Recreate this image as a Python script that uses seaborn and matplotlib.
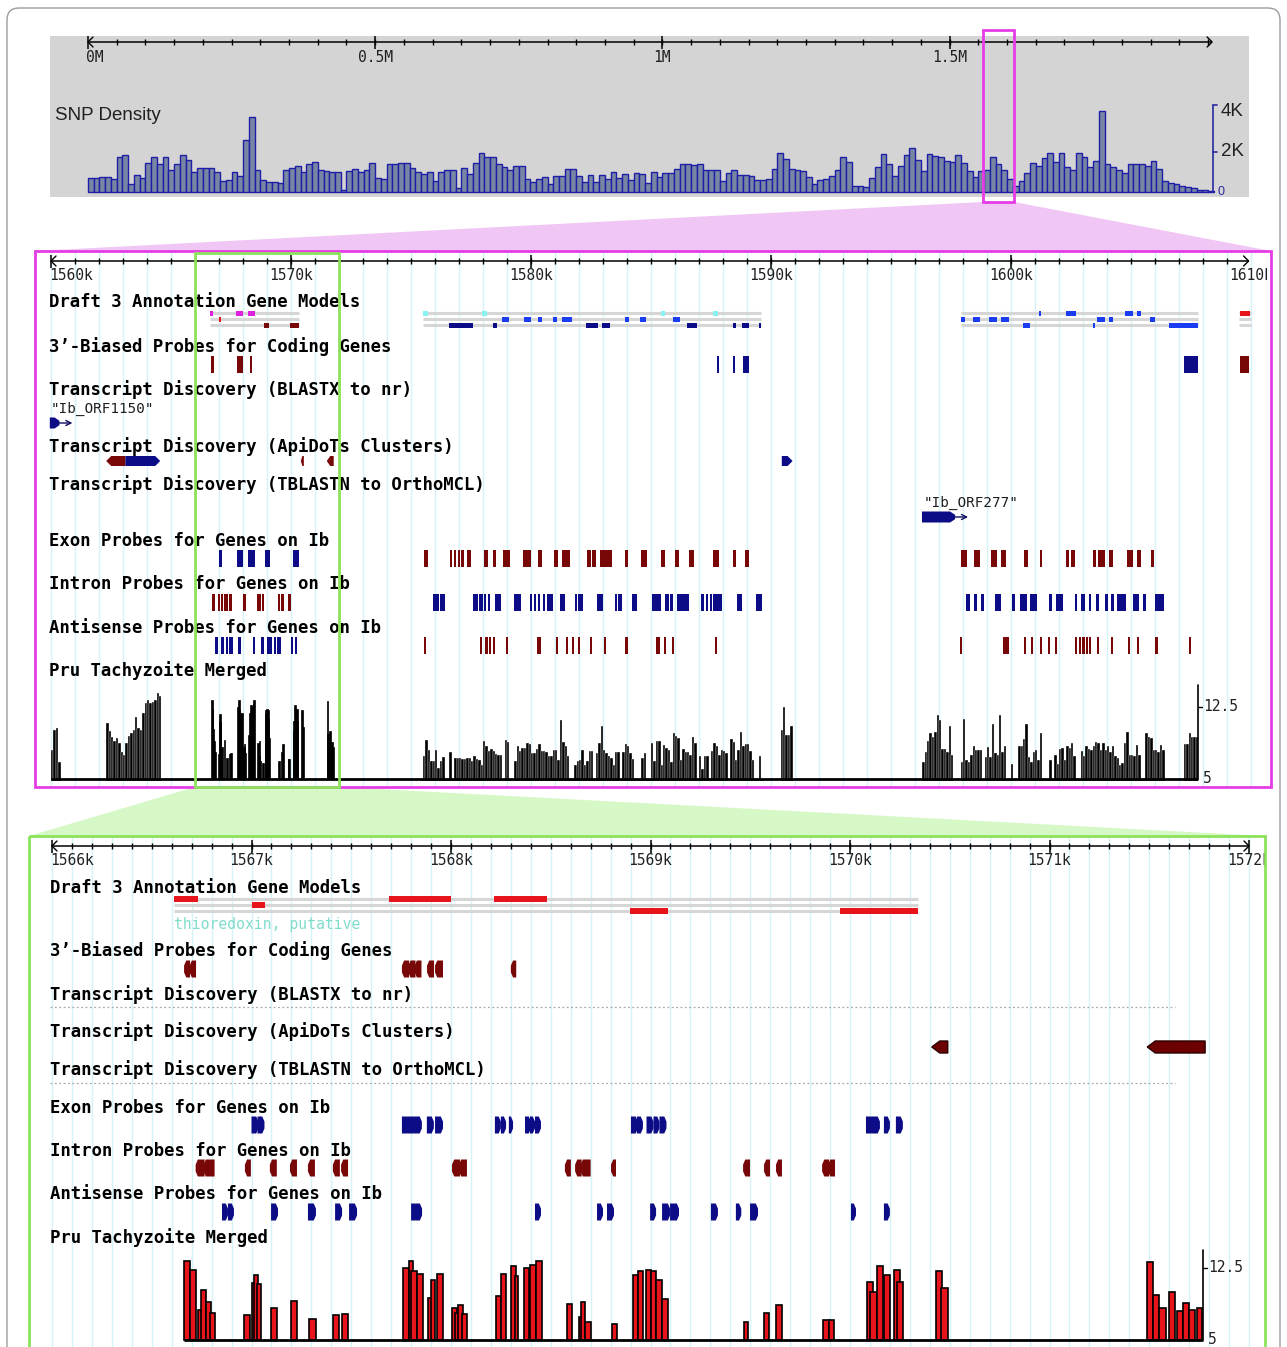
import numpy as np
import pandas as pd
import matplotlib
matplotlib.use("Agg")
import matplotlib.pyplot as plt
from matplotlib.patches import Polygon, Rectangle, FancyBboxPatch
import seaborn as sns

# ---------------------------------------------------------------- data
# SNP density along the chromosome, 10 kb bins (thousands of SNPs)
snp_bin_mb = 0.01
snp_density_k = [
    0.70, 0.70, 0.72, 0.75, 0.65, 1.75, 1.85, 0.38, 0.85, 0.70,
    1.44, 1.72, 1.36, 1.72, 1.10, 1.36, 1.85, 1.56, 0.98, 1.20,
    1.20, 1.20, 0.98, 0.52, 0.57, 0.97, 0.77, 2.57, 3.72, 1.10,
    0.60, 0.50, 0.50, 0.44, 1.07, 1.18, 1.26, 0.97, 1.36, 1.50,
    1.10, 1.02, 0.97, 0.97, 0.08, 1.03, 1.15, 0.97, 1.10, 1.43,
    0.70, 0.66, 1.36, 1.39, 1.44, 1.44, 1.20, 0.98, 0.90, 0.98,
    0.54, 0.98, 1.07, 1.07, 0.21, 1.20, 0.90, 1.43, 1.92, 1.72,
    1.72, 1.36, 1.23, 1.07, 1.26, 1.26, 0.64, 0.48, 0.66, 0.74,
    0.41, 0.77, 0.77, 1.15, 1.15, 0.77, 0.49, 0.82, 0.49, 0.82,
    0.66, 0.98, 0.70, 0.90, 0.57, 0.93, 0.87, 0.46, 0.98, 0.74,
    0.93, 0.93, 1.13, 1.38, 1.38, 1.34, 1.38, 1.07, 1.07, 1.07,
    0.52, 0.93, 1.07, 0.82, 0.85, 0.80, 0.57, 0.57, 0.64, 1.15,
    1.95, 1.62, 1.13, 1.07, 1.02, 0.72, 0.41, 0.57, 0.64, 0.80,
    1.07, 1.72, 1.46, 0.28, 0.28, 0.23, 0.69, 1.21, 1.89, 1.38,
    0.80, 1.30, 1.84, 2.15, 1.59, 1.05, 1.87, 1.80, 1.75, 1.54,
    1.50, 1.84, 1.43, 1.02, 0.74, 1.05, 1.07, 1.72, 1.39, 1.07,
    0.64, 0.31, 0.52, 0.93, 1.43, 1.30, 1.70, 1.95, 1.46, 1.95,
    1.23, 1.07, 1.95, 1.75, 1.23, 1.51, 4.02, 1.38, 1.23, 1.07,
    0.93, 1.38, 1.38, 1.38, 1.30, 1.51, 1.13, 0.52, 0.45, 0.41,
    0.31, 0.25, 0.20, 0.12, 0.08, 0.03,
]
chrom_length_mb = 1.957
genome_major_mb = [0.0, 0.5, 1.0, 1.5]
genome_major_labels = ["0M", "0.5M", "1M", "1.5M"]
snp_scale_k = [2, 4]
snp_scale_labels = ["2K", "4K"]

# region views (kb)
region_view = (1560.0, 1609.9)
region_major_kb = [1560, 1570, 1580, 1590, 1600, 1610]
region_major_labels = ["1560k", "1570k", "1580k", "1590k", "1600k", "1610k"]
detail_view = (1566.0, 1572.0)
detail_major_kb = [1566, 1567, 1568, 1569, 1570, 1571, 1572]
detail_major_labels = ["1566k", "1567k", "1568k", "1569k", "1570k", "1571k", "1572k"]

track_names = [
    "Draft 3 Annotation Gene Models",
    "3\u2019-Biased Probes for Coding Genes",
    "Transcript Discovery (BLASTX to nr)",
    "Transcript Discovery (ApiDoTs Clusters)",
    "Transcript Discovery (TBLASTN to OrthoMCL)",
    "Exon Probes for Genes on Ib",
    "Intron Probes for Genes on Ib",
    "Antisense Probes for Genes on Ib",
    "Pru Tachyzoite Merged",
]

# gene models inside the detail window: (row, start, end)
thioredoxin_span = (1566.61, 1570.34)
thioredoxin_name = "thioredoxin, putative"
thioredoxin_exons = [
    (0, 1566.61, 1566.73), (0, 1567.69, 1568.00), (0, 1568.215, 1568.48),
    (1, 1567.005, 1567.07),
    (2, 1568.895, 1569.09), (2, 1569.95, 1570.34),
]
# other gene models of the 50 kb region: (row, start, end, colour key)
gene_b_span = (1575.5, 1589.6)
gene_b_exons = [
    (0, 1575.50, 1575.70, "cyan"), (0, 1577.96, 1578.17, "cyan"),
    (0, 1585.40, 1585.60, "cyan"), (0, 1587.60, 1587.80, "cyan"),
    (1, 1578.80, 1579.10, "blue"), (1, 1579.70, 1580.00, "blue"),
    (1, 1580.30, 1580.45, "blue"), (1, 1580.90, 1581.10, "blue"),
    (1, 1581.30, 1581.70, "blue"), (1, 1583.90, 1584.10, "blue"),
    (1, 1584.55, 1584.80, "blue"), (1, 1585.90, 1586.20, "blue"),
    (2, 1576.60, 1577.60, "navy"), (2, 1578.40, 1578.60, "navy"),
    (2, 1582.30, 1582.80, "navy"), (2, 1582.95, 1583.30, "navy"),
    (2, 1586.50, 1586.90, "navy"), (2, 1588.40, 1588.55, "navy"),
    (2, 1588.80, 1589.10, "navy"), (2, 1589.50, 1589.60, "navy"),
]
gene_c_span = (1597.9, 1607.8)
gene_c_exons = [
    (0, 1601.17, 1601.25, "blue"), (0, 1602.30, 1602.70, "blue"),
    (0, 1604.75, 1605.10, "blue"), (0, 1605.25, 1605.40, "blue"),
    (1, 1597.90, 1598.10, "blue"), (1, 1598.40, 1598.70, "blue"),
    (1, 1599.10, 1599.40, "blue"), (1, 1599.60, 1599.90, "blue"),
    (1, 1603.60, 1603.90, "blue"), (1, 1604.10, 1604.25, "blue"),
    (1, 1605.80, 1606.00, "blue"),
    (2, 1600.50, 1600.80, "blue"), (2, 1603.40, 1603.50, "blue"),
    (2, 1606.60, 1607.80, "blue"),
]
gene_d_span = (1609.5, 1610.0)
gene_d_exons = [(0, 1609.55, 1609.95, "red")]

# probes: (start, end, strand)
probes_3p_detail = [
    (1566.662, 1566.692, "-"), (1566.690, 1566.722, "-"),
    (1567.754, 1567.790, "-"), (1567.786, 1567.822, "-"), (1567.818, 1567.852, "-"),
    (1567.880, 1567.915, "-"), (1567.920, 1567.960, "-"),
    (1568.300, 1568.327, "-"),
]
probes_3p_outer = [
    (1587.75, 1587.85, "+"), (1588.42, 1588.47, "+"), (1588.85, 1589.10, "+"),
    (1607.20, 1607.80, "+"), (1609.55, 1609.90, "-"),
]
exon_detail = [
    (1567.000, 1567.035, "+"), (1567.030, 1567.065, "+"),
    (1567.754, 1567.794, "+"), (1567.784, 1567.824, "+"), (1567.814, 1567.854, "+"),
    (1567.879, 1567.914, "+"), (1567.920, 1567.960, "+"),
    (1568.220, 1568.250, "+"), (1568.250, 1568.276, "+"), (1568.290, 1568.311, "+"),
    (1568.371, 1568.401, "+"), (1568.396, 1568.421, "+"), (1568.421, 1568.451, "+"),
    (1568.902, 1568.937, "+"), (1568.932, 1568.962, "+"), (1568.980, 1569.015, "+"),
    (1569.015, 1569.045, "+"), (1569.045, 1569.080, "+"),
    (1570.080, 1570.120, "+"), (1570.110, 1570.150, "+"), (1570.170, 1570.200, "+"),
    (1570.230, 1570.265, "+"),
]
exon_outer = [
    (1575.54, 1575.71, "-"), (1576.63, 1576.70, "-"), (1576.80, 1576.88, "-"),
    (1576.96, 1577.04, "-"), (1577.10, 1577.18, "-"), (1577.33, 1577.50, "-"),
    (1578.04, 1578.20, "-"), (1578.40, 1578.54, "-"), (1578.83, 1579.12, "-"),
    (1579.67, 1580.00, "-"), (1580.30, 1580.46, "-"), (1580.96, 1581.12, "-"),
    (1581.30, 1581.62, "-"), (1582.33, 1582.50, "-"), (1582.55, 1582.70, "-"),
    (1582.87, 1583.37, "-"), (1583.90, 1584.04, "-"), (1584.60, 1584.83, "-"),
    (1585.40, 1585.60, "-"), (1586.00, 1586.17, "-"), (1586.60, 1586.80, "-"),
    (1587.60, 1587.83, "-"), (1588.40, 1588.54, "-"), (1588.90, 1589.10, "-"),
    (1597.90, 1598.17, "-"), (1598.46, 1598.70, "-"), (1599.17, 1599.40, "-"),
    (1599.58, 1599.80, "-"), (1600.54, 1600.70, "-"), (1601.20, 1601.28, "-"),
    (1602.30, 1602.40, "-"), (1602.50, 1602.67, "-"), (1603.40, 1603.54, "-"),
    (1603.63, 1603.90, "-"), (1604.10, 1604.25, "-"), (1604.83, 1605.08, "-"),
    (1605.25, 1605.40, "-"), (1605.83, 1605.96, "-"),
]
intron_detail = [
    (1566.720, 1566.765, "-"), (1566.760, 1566.815, "-"), (1566.967, 1566.997, "-"),
    (1567.092, 1567.127, "-"), (1567.193, 1567.228, "-"), (1567.283, 1567.318, "-"),
    (1567.408, 1567.443, "-"), (1567.449, 1567.484, "-"), (1568.005, 1568.045, "-"),
    (1568.040, 1568.080, "-"), (1568.571, 1568.601, "-"), (1568.622, 1568.655, "-"),
    (1568.650, 1568.700, "-"), (1568.802, 1568.827, "-"), (1569.464, 1569.499, "-"),
    (1569.569, 1569.599, "-"), (1569.629, 1569.659, "-"), (1569.860, 1569.895, "-"),
    (1569.890, 1569.925, "-"),
]
intron_outer = [
    (1575.90, 1576.15, "+"), (1576.20, 1576.40, "+"), (1577.60, 1577.80, "+"),
    (1577.85, 1578.00, "+"), (1578.05, 1578.12, "+"), (1578.20, 1578.30, "+"),
    (1578.50, 1578.75, "+"), (1579.30, 1579.60, "+"), (1579.95, 1580.02, "+"),
    (1580.12, 1580.20, "+"), (1580.30, 1580.38, "+"), (1580.50, 1580.56, "+"),
    (1580.68, 1580.74, "+"), (1580.80, 1580.90, "+"), (1581.20, 1581.40, "+"),
    (1581.83, 1581.90, "+"), (1581.96, 1582.17, "+"), (1582.75, 1583.00, "+"),
    (1583.50, 1583.56, "+"), (1583.62, 1583.80, "+"), (1584.20, 1584.40, "+"),
    (1585.05, 1585.40, "+"), (1585.60, 1585.75, "+"), (1585.80, 1585.90, "+"),
    (1586.10, 1586.60, "+"), (1587.10, 1587.20, "+"), (1587.30, 1587.36, "+"),
    (1587.45, 1587.52, "+"), (1587.60, 1587.95, "+"), (1588.60, 1588.80, "+"),
    (1589.37, 1589.62, "+"),
    (1598.12, 1598.30, "+"), (1598.46, 1598.58, "+"), (1598.75, 1598.87, "+"),
    (1599.33, 1599.60, "+"), (1600.04, 1600.17, "+"), (1600.37, 1600.67, "+"),
    (1600.80, 1601.10, "+"), (1601.58, 1601.70, "+"), (1601.87, 1602.17, "+"),
    (1602.67, 1602.75, "+"), (1602.92, 1603.08, "+"), (1603.25, 1603.33, "+"),
    (1603.54, 1603.67, "+"), (1603.92, 1604.04, "+"), (1604.17, 1604.30, "+"),
    (1604.42, 1604.80, "+"), (1605.10, 1605.33, "+"), (1605.50, 1605.63, "+"),
    (1606.00, 1606.38, "+"),
]
antisense_detail = [
    (1566.852, 1566.882, "+"), (1566.882, 1566.912, "+"), (1567.098, 1567.133, "+"),
    (1567.283, 1567.323, "+"), (1567.419, 1567.454, "+"), (1567.489, 1567.529, "+"),
    (1567.800, 1567.830, "+"), (1567.820, 1567.855, "+"), (1568.421, 1568.451, "+"),
    (1568.732, 1568.762, "+"), (1568.782, 1568.817, "+"), (1568.998, 1569.028, "+"),
    (1569.058, 1569.098, "+"), (1569.098, 1569.143, "+"), (1569.303, 1569.338, "+"),
    (1569.428, 1569.455, "+"), (1569.499, 1569.539, "+"), (1570.005, 1570.030, "+"),
    (1570.170, 1570.200, "+"),
]
antisense_outer = [
    (1575.54, 1575.58, "-"), (1577.88, 1577.96, "-"), (1578.10, 1578.16, "-"),
    (1578.25, 1578.32, "-"), (1578.42, 1578.50, "-"), (1578.96, 1579.04, "-"),
    (1580.25, 1580.30, "-"), (1580.33, 1580.37, "-"), (1581.04, 1581.10, "-"),
    (1581.46, 1581.50, "-"), (1581.70, 1581.78, "-"), (1581.96, 1582.02, "-"),
    (1582.46, 1582.50, "-"), (1583.04, 1583.08, "-"), (1583.90, 1584.04, "-"),
    (1585.20, 1585.28, "-"), (1585.30, 1585.38, "-"), (1585.54, 1585.62, "-"),
    (1585.87, 1585.96, "-"), (1587.67, 1587.77, "-"),
    (1597.88, 1597.94, "-"), (1599.67, 1599.92, "-"), (1600.54, 1600.60, "-"),
    (1600.83, 1600.88, "-"), (1601.20, 1601.26, "-"), (1601.54, 1601.60, "-"),
    (1601.83, 1601.92, "-"), (1602.67, 1602.72, "-"), (1602.83, 1602.88, "-"),
    (1602.95, 1603.10, "-"), (1603.12, 1603.20, "-"), (1603.25, 1603.33, "-"),
    (1603.58, 1603.64, "-"), (1604.17, 1604.23, "-"), (1604.87, 1604.93, "-"),
    (1605.25, 1605.31, "-"), (1606.00, 1606.12, "-"), (1607.42, 1607.50, "-"),
]
apidots_clusters = [
    (1562.30, 1563.10, "-"), (1563.10, 1564.55, "+"),
    (1570.41, 1570.49, "-"), (1571.49, 1571.78, "-"), (1590.45, 1590.90, "+"),
]
blastx_hits = [(1559.95, 1560.35, "+", "\"Ib_ORF1150\"")]
tblastn_hits = [(1596.29, 1597.67, "+", "\"Ib_ORF277\"")]

# Pru tachyzoite merged signal, 0.1 kb bins over the 50 kb region
cov_bin_kb = 0.1
cov_segments = [
    (1560.0, [8.0, 10.1, 10.3, 6.8]),
    (1562.3, [10.8, 10.0, 9.4, 9.0, 9.3, 8.7, 7.8, 7.5, 8.7, 9.5, 9.8, 10.1,
              11.5, 10.3, 10.1, 11.9, 12.9, 13.2, 12.9, 13.0, 13.2, 14.0, 13.6]),
    (1575.4, [5.0, 7.4, 9.1, 8.0, 6.9, 6.9, 8.0, 6.1, 6.9, 7.3,
              5.0, 5.0, 7.8, 5.0, 7.2, 7.2, 7.2, 7.1, 7.1, 7.2,
              7.2, 6.9, 7.4, 7.1, 7.0, 6.5, 9.0, 8.4, 7.9, 8.1,
              7.9, 7.6, 7.5, 7.5, 5.0, 9.1, 8.9, 5.0, 5.0, 6.9,
              8.4, 7.9, 8.2, 8.2, 8.7, 8.6, 7.7, 7.7, 8.1, 8.6,
              7.9, 7.9, 7.8, 7.4, 7.4, 8.0, 8.0, 7.0, 11.1, 8.9,
              8.4, 7.4, 5.0, 5.0, 6.5, 6.9, 7.0, 8.0, 6.5, 6.9,
              7.9, 7.9, 5.0, 7.7, 8.7, 10.5, 8.0, 7.7, 7.4, 7.2,
              6.5, 7.8, 7.8, 5.0, 7.8, 8.6, 8.4, 7.7, 7.1, 5.0,
              5.0, 5.0, 7.2, 7.7, 5.0, 5.0, 8.7, 6.9, 9.0, 9.0,
              6.5, 8.5, 8.2, 8.0, 6.8, 9.8, 9.5, 9.3, 7.0, 8.1,
              7.8, 7.8, 7.5, 9.4, 8.8, 5.0, 7.4, 6.0, 7.4, 7.4,
              5.0, 7.9, 8.7, 8.4, 7.5, 8.0, 7.9, 7.7, 5.0, 9.2,
              8.9, 7.0, 8.0, 9.9, 8.4, 8.6, 8.6, 7.9, 7.0, 5.0,
              5.0, 7.4, 5.0]),
    (1590.4, [10.1, 12.5, 9.6, 9.6, 10.5]),
    (1596.3, [6.8, 7.8, 9.0, 9.8, 9.4, 9.9, 11.7, 11.1, 8.1, 8.1, 7.8, 10.5, 7.5]),
    (1597.9, [6.8, 11.2, 7.0, 6.8, 7.5, 8.4, 8.0, 8.0, 8.0, 5.0,
              7.3, 8.3, 7.3, 10.7, 7.7, 7.5, 11.7, 7.8, 8.4, 5.0,
              5.0, 6.6, 5.0, 5.0, 8.4, 8.4, 9.2, 10.7, 7.3, 6.8,
              7.8, 8.0, 7.0, 9.8, 5.0, 5.0, 5.0, 7.0, 5.0, 7.5,
              6.6, 8.1, 8.2, 7.0, 8.4, 8.2, 8.7, 7.4, 5.0, 5.0,
              7.9, 7.4, 8.4, 8.1, 8.0, 8.4, 8.9, 8.7, 8.0, 8.7,
              8.0, 8.4, 7.8, 8.4, 7.4, 7.2, 6.5, 6.7, 8.7, 9.9,
              7.5, 7.5, 7.4, 8.5, 7.5, 5.0, 5.0, 9.8, 9.4, 9.3,
              8.0, 8.0, 7.8, 8.5, 8.0]),
    (1607.2, [8.6, 8.6, 9.8, 9.4, 9.4, 9.4]),
]
# full-resolution signal inside the detail window: (start, end, value)
cov_detail = [
    (1566.664, 1566.690, 13.2), (1566.690, 1566.720, 12.3), (1566.730, 1566.750, 8.1),
    (1566.745, 1566.770, 10.2), (1566.770, 1566.795, 9.0), (1566.790, 1566.815, 7.8),
    (1566.962, 1566.990, 7.6), (1567.000, 1567.020, 10.9), (1567.015, 1567.035, 11.8),
    (1567.030, 1567.050, 10.8), (1567.097, 1567.130, 8.3), (1567.200, 1567.230, 9.1),
    (1567.290, 1567.325, 7.2), (1567.410, 1567.440, 7.6), (1567.455, 1567.485, 7.7),
    (1567.758, 1567.788, 12.5), (1567.788, 1567.808, 13.2), (1567.800, 1567.830, 12.2),
    (1567.830, 1567.860, 11.9), (1567.885, 1567.903, 9.4), (1567.900, 1567.920, 11.3),
    (1567.930, 1567.960, 11.9), (1568.005, 1568.030, 8.3), (1568.020, 1568.040, 7.8),
    (1568.035, 1568.060, 8.6), (1568.055, 1568.080, 7.7), (1568.224, 1568.250, 9.6),
    (1568.250, 1568.276, 11.9), (1568.300, 1568.326, 12.7), (1568.320, 1568.336, 11.7),
    (1568.366, 1568.390, 12.5), (1568.396, 1568.426, 12.8), (1568.426, 1568.456, 13.2),
    (1568.580, 1568.607, 8.7), (1568.640, 1568.657, 7.4), (1568.654, 1568.673, 9.0),
    (1568.673, 1568.700, 6.9), (1568.805, 1568.830, 6.7), (1568.910, 1568.936, 11.8),
    (1568.936, 1568.962, 12.2), (1568.976, 1569.000, 12.3), (1569.000, 1569.030, 12.2),
    (1569.030, 1569.060, 11.3), (1569.060, 1569.090, 9.3), (1569.470, 1569.490, 6.9),
    (1569.570, 1569.595, 7.8), (1569.630, 1569.660, 8.6), (1569.865, 1569.893, 7.1),
    (1569.893, 1569.920, 7.1), (1570.083, 1570.114, 11.0), (1570.100, 1570.134, 10.0),
    (1570.134, 1570.165, 12.7), (1570.170, 1570.200, 11.8), (1570.222, 1570.253, 12.3),
    (1570.235, 1570.266, 11.0), (1570.430, 1570.460, 12.2), (1570.456, 1570.490, 10.4),
    (1571.490, 1571.520, 13.1), (1571.520, 1571.550, 9.7), (1571.550, 1571.586, 8.3),
    (1571.600, 1571.630, 10.0), (1571.637, 1571.670, 7.97), (1571.670, 1571.700, 8.9),
    (1571.700, 1571.730, 8.1), (1571.740, 1571.766, 8.3),
]
cov_floor = 5.0
cov_scale_ticks = [5.0, 12.5]
cov_scale_labels = ["5", "12.5"]

# ---------------------------------------------------------------- style
sns.set_theme(style="white")
plt.rcParams["font.family"] = ["DejaVu Sans"]
MONO = "DejaVu Sans Mono"
ARIAL = "Liberation Sans"

NAVY = "#0c0c86"
DARKRED = "#780808"
BLUE = "#1a3cf2"
CYAN = "#86f2f2"
RED = "#e8141c"
MAGENTA = "#e020e0"
GRID = "#d6f3f6"
GENE_LINE = "#d6d6d6"
STRAND = {"+": NAVY, "-": DARKRED}
GENE_COL = {"cyan": CYAN, "blue": BLUE, "navy": NAVY, "red": RED}

W, H = 1287, 1347
fig = plt.figure(figsize=(W / 100, H / 100), dpi=100)
fig.patch.set_facecolor("white")


def px_rect(x0, y0, x1, y1):
    return [x0 / W, 1 - y1 / H, (x1 - x0) / W, (y1 - y0) / H]


# panel geometry: pixel box, pixel of the origin coordinate, pixels per unit
TOP = dict(box=(50, 36, 1249, 197), o_px=88, o=0.0, ppu=574.4)
MID = dict(box=(35, 251, 1271, 787), o_px=51, o=1560.0, ppu=24.0)
BOT = dict(box=(29, 836, 1265, 1347), o_px=52, o=1566.0, ppu=199.5)


def u(p, px):
    return p["o"] + (px - p["o_px"]) / p["ppu"]


def track_axes(p, z):
    x0, y0, x1, y1 = p["box"]
    ax = fig.add_axes(px_rect(x0, y0, x1, y1), zorder=z)
    ax.set_xlim(u(p, x0), u(p, x1))
    ax.set_ylim(y1, y0)
    ax.axis("off")
    return ax


def value_axes(p, y_top, y_bot, z):
    x0, _, x1, _ = p["box"]
    ax = fig.add_axes(px_rect(x0, y_top, x1, y_bot), zorder=z)
    ax.axis("off")
    return ax


def hist_bars(ax, centers, weights, edges, **kw):
    frame = pd.DataFrame({"pos": np.asarray(centers, float),
                          "w": np.asarray(weights, float)})
    sns.histplot(data=frame, x="pos", weights="w", bins=[float(b) for b in edges],
                 ax=ax, alpha=1.0, legend=False, **kw)


# ------------------------------------------------------- background canvas
bg = fig.add_axes([0, 0, 1, 1], zorder=0)
bg.set_xlim(0, W)
bg.set_ylim(H, 0)
bg.axis("off")
bg.add_patch(FancyBboxPatch((7, 8), 1273, 1370, boxstyle="round,pad=0,rounding_size=12",
                            fc="white", ec="#9c9c9c", lw=1.0))
bg.add_patch(Rectangle((50, 36), 1199, 161, fc="#d4d4d4", ec="none"))
bg.add_patch(Polygon([(983, 202), (1014, 202), (1271, 251), (35, 251)],
                     closed=True, fc="#f0c6f4", ec="none"))
bg.add_patch(Polygon([(195, 787), (339, 787), (1265, 836), (29, 836)],
                     closed=True, fc="#d6f8c6", ec="none"))


# ------------------------------------------------------------- helpers
def ruler(ax, p, start, end, y, minor, majors, labels, label_y, fs, clip_px=None):
    ax.plot([start, end], [y, y], color="black", lw=1.1, solid_capstyle="butt")
    ax.vlines(minor, y - 3, y + 3, color="black", lw=1.0)
    ax.vlines([m for m in majors if m <= end], y - 6, y + 7, color="black", lw=1.1)
    d = 5 / p["ppu"]
    ax.plot([start + d, start, start + d], [y - 5, y, y + 5], color="black", lw=1.0)
    ax.plot([end - d, end, end - d], [y - 5, y, y + 5], color="black", lw=1.0)
    clip = None
    if clip_px is not None:
        clip = Rectangle((u(p, p["box"][0]), y - 30), u(p, clip_px) - u(p, p["box"][0]),
                         60, transform=ax.transData, fc="none", ec="none")
        ax.add_patch(clip)
    for i, (m, lab) in enumerate(zip(majors, labels)):
        ha = "left" if i == 0 else "center"
        xx = start - 2 / p["ppu"] if i == 0 else m
        t = ax.text(xx, label_y, lab, ha=ha, va="center", family=MONO, fontsize=fs,
                    color="#202020", clip_on=True)
        if clip is not None:
            t.set_clip_path(clip)


def glyph(ax, s, e, yc, h, strand, color, tip, ec="none", lw=0.0, z=3, notch=0.5):
    """Strand-directed feature: a box whose leading end is pointed (notch=0.5)
    or chamfered (notch<0.5)."""
    t = min(tip, (e - s) * 0.5)
    y0, y1 = yc - h / 2, yc + h / 2
    n = h * notch
    if strand == "+":
        pts = [(s, y0), (e - t, y0), (e, y0 + n), (e, y1 - n), (e - t, y1), (s, y1)]
    else:
        pts = [(e, y0), (s + t, y0), (s, y0 + n), (s, y1 - n), (s + t, y1), (e, y1)]
    ax.add_patch(Polygon(pts, closed=True, fc=color, ec=ec, lw=lw, zorder=z))


def bars(ax, feats, yc, h, minw):
    for s, e, st in feats:
        w = max(e - s, minw)
        ax.add_patch(Rectangle((s, yc - h / 2), w, h, fc=STRAND[st], ec="none", zorder=3))


def gene_rows(ax, span, exons, rows_y, box_h, colour_of):
    for y in rows_y:
        ax.plot(span, [y, y], color=GENE_LINE, lw=2.2, solid_capstyle="butt", zorder=2)
    for ex in exons:
        row, s, e = ex[0], ex[1], ex[2]
        ax.add_patch(Rectangle((s, rows_y[row] - box_h / 2), e - s, box_h,
                               fc=colour_of(ex), ec="none", zorder=3))


TRACK_FS = 12.4

# ================================================================ top panel
top = track_axes(TOP, 1)
ruler(top, TOP, 0.0, chrom_length_mb, 42,
      np.arange(0.05, 1.951, 0.05), genome_major_mb, genome_major_labels, 57, 10.5)
top.text(u(TOP, 55), 115, "SNP Density", family=ARIAL, fontsize=13.5, va="center",
         ha="left", color="#202020")

snp_ax = value_axes(TOP, 100, 194, 2)
edges = np.arange(len(snp_density_k) + 1) * snp_bin_mb
hist_bars(snp_ax, edges[:-1] + snp_bin_mb / 2, snp_density_k, edges,
          color="#7886a4", edgecolor="#1e1ea6", linewidth=1.0)
snp_ax.set_xlim(u(TOP, 50), u(TOP, 1249))
snp_ax.set_ylim((192 - 194) / 20.25, (192 - 100) / 20.25)
snp_ax.axis("off")
sx = u(TOP, 1213)
snp_ax.plot([sx, sx], [0, 4.3], color="#2a2aa0", lw=1.2)
snp_ax.plot([sx, sx + 4 / TOP["ppu"]], [4.3, 4.3], color="#2a2aa0", lw=1.2)
snp_ax.plot([sx, sx + 4 / TOP["ppu"]], [2.0, 2.0], color="#2a2aa0", lw=1.2)
for v, lab in zip(snp_scale_k, snp_scale_labels):
    snp_ax.text(u(TOP, 1221), v, lab, family=ARIAL, fontsize=13.5, va="center",
                ha="left", color="#202020")
snp_ax.text(u(TOP, 1218), 0.0, "0", family=ARIAL, fontsize=9, va="center",
            ha="left", color="#2a2aa0")

# ============================================================= middle panel
mid = track_axes(MID, 1)
mid.vlines(np.arange(1560, 1611, 1.0), 251, 787, color=GRID, lw=1.0, zorder=0)
ruler(mid, MID, region_view[0], region_view[1], 261, np.arange(1561, 1610, 1.0),
      region_major_kb, region_major_labels, 275, 10.5, clip_px=1267)
mid_label_y = [302, 347, 390, 447, 485, 541, 584, 628, 671]
for y, name in zip(mid_label_y, track_names):
    mid.text(u(MID, 49), y, name, family=MONO, weight="bold", fontsize=TRACK_FS,
             va="center", ha="left", color="black", zorder=5)

mid_rows = [313, 319, 325]
thio_mid_cols = [MAGENTA, RED, DARKRED]
gene_rows(mid, thioredoxin_span, thioredoxin_exons, mid_rows, 5,
          lambda ex: thio_mid_cols[ex[0]])
for span, exons in [(gene_b_span, gene_b_exons), (gene_c_span, gene_c_exons),
                    (gene_d_span, gene_d_exons)]:
    gene_rows(mid, span, exons, mid_rows, 5, lambda ex: GENE_COL[ex[3]])

minw = 2.2 / MID["ppu"]
bars(mid, probes_3p_detail + probes_3p_outer, 364.5, 17, minw)
bars(mid, exon_detail + exon_outer, 558.5, 17, minw)
bars(mid, intron_detail + intron_outer, 602, 17, minw)
bars(mid, antisense_detail + antisense_outer, 645.5, 17, minw)

for s, e, st in apidots_clusters:
    glyph(mid, s, max(e, s + 3 / MID["ppu"]), 461, 10, st, STRAND[st], 5 / MID["ppu"])

for (s, e, st, name), (ly, gy) in zip(blastx_hits + tblastn_hits, [(409, 423), (503, 517)]):
    mid.text(s + 0.05, ly, name, family=MONO, fontsize=10.3, va="center", ha="left",
             color="#202020")
    glyph(mid, s, e, gy, 11, st, NAVY, 5 / MID["ppu"], notch=0.3)
    mid.annotate("", xy=(e + 13 / MID["ppu"], gy), xytext=(e - 1 / MID["ppu"], gy),
                 arrowprops=dict(arrowstyle="->", color="#101060", lw=1.0,
                                 shrinkA=0, shrinkB=0, mutation_scale=9))

mid_cov = value_axes(MID, 680, 781, 2)
cov_edges = np.round(np.arange(1560.0, 1607.81, cov_bin_kb), 3)
cov_vals = np.zeros(len(cov_edges) - 1)
for start, vals in cov_segments:
    i0 = int(round((start - 1560.0) / cov_bin_kb))
    cov_vals[i0:i0 + len(vals)] = vals
hist_bars(mid_cov, cov_edges[:-1] + cov_bin_kb / 2, cov_vals, cov_edges,
          color="black", edgecolor="white", linewidth=0.25)
ds = np.array([c[0] for c in cov_detail])
de = np.array([c[1] for c in cov_detail])
dv = np.array([c[2] for c in cov_detail])
mid_cov.bar(ds, dv - cov_floor, width=np.maximum(de - ds, 1.6 / MID["ppu"]),
            bottom=cov_floor, align="edge", color="black", edgecolor="black", lw=0.5)
mid_cov.set_xlim(u(MID, 35), u(MID, 1271))
mid_cov.set_ylim(cov_floor + (779 - 781) / 9.6, cov_floor + (779 - 680) / 9.6)
mid_cov.axis("off")
msx = u(MID, 1198)
mid_cov.plot([1560.0, msx], [cov_floor, cov_floor], color="black", lw=2.0,
             solid_capstyle="butt")
mid_cov.plot([msx, msx], [cov_floor, cov_floor + 94 / 9.6], color="black", lw=1.2)
mid_cov.plot([msx, msx + 4 / MID["ppu"]], [12.5, 12.5], color="black", lw=1.0)
for v, lab in zip(cov_scale_ticks, cov_scale_labels):
    mid_cov.text(msx + 5 / MID["ppu"], v, lab, family=MONO, fontsize=10.5, va="center",
                 ha="left", color="#202020")

# ============================================================= detail panel
bot = track_axes(BOT, 1)
bot.vlines(np.round(np.arange(1566.0, 1572.01, 0.1), 2), 836, 1347, color=GRID, lw=1.0,
           zorder=0)
ruler(bot, BOT, detail_view[0], detail_view[1], 846,
      np.round(np.arange(1566.1, 1571.95, 0.1), 2), detail_major_kb,
      detail_major_labels, 860, 10.5)
bot_label_y = [888, 951, 995, 1032, 1070, 1108, 1151, 1194, 1238]
for y, name in zip(bot_label_y, track_names):
    bot.text(u(BOT, 50), y, name, family=MONO, weight="bold", fontsize=TRACK_FS,
             va="center", ha="left", color="black", zorder=5)

bot_rows = [899, 905, 911]
gene_rows(bot, thioredoxin_span, thioredoxin_exons, bot_rows, 6, lambda ex: RED)
bot.text(thioredoxin_span[0], 924, thioredoxin_name, family=MONO, fontsize=10.6,
         va="center", ha="left", color="#80dccc")

for y in [1007, 1083]:
    bot.plot([u(BOT, 50), u(BOT, 1175)], [y, y], color="#a8a8a8", lw=0.9,
             linestyle=(0, (1.5, 2.0)))

tip = 2.2 / BOT["ppu"]
for feats, yc in [(probes_3p_detail, 969), (exon_detail, 1125),
                  (intron_detail, 1168), (antisense_detail, 1212)]:
    for s, e, st in feats:
        glyph(bot, s, e, yc, 17, st, STRAND[st], tip, notch=0.3)
for s, e, st in apidots_clusters:
    if detail_view[0] <= s <= detail_view[1]:
        glyph(bot, s, e, 1047, 12, st, "#6c0000", 8 / BOT["ppu"], ec="#2a0000", lw=1.0)

bot_cov = value_axes(BOT, 1240, 1343, 2)
bot_cov.bar(ds, dv - cov_floor, width=de - ds, bottom=cov_floor, align="edge",
            color=RED, edgecolor="black", lw=1.2)
bot_cov.set_xlim(u(BOT, 29), u(BOT, 1265))
bot_cov.set_ylim(cov_floor + (1340 - 1343) / 9.6, cov_floor + (1340 - 1240) / 9.6)
bot_cov.axis("off")
bsx = u(BOT, 1203)
bot_cov.plot([ds.min(), bsx], [cov_floor, cov_floor], color="black", lw=2.0,
             solid_capstyle="butt")
bot_cov.plot([bsx, bsx], [cov_floor, cov_floor + 90 / 9.6], color="black", lw=1.2)
bot_cov.plot([bsx, bsx + 4 / BOT["ppu"]], [12.5, 12.5], color="black", lw=1.0)
for v, lab in zip(cov_scale_ticks, cov_scale_labels):
    bot_cov.text(bsx + 5 / BOT["ppu"], v, lab, family=MONO, fontsize=10.5, va="center",
                 ha="left", color="#202020")

# ------------------------------------------------------------ frame overlay
ov = fig.add_axes([0, 0, 1, 1], zorder=4)
ov.set_xlim(0, W)
ov.set_ylim(H, 0)
ov.axis("off")
ov.patch.set_alpha(0)
ov.add_patch(Rectangle((983, 30), 31, 172, fc="none", ec="#e63ce6", lw=2.0))
ov.add_patch(Rectangle((35, 251), 1236, 536, fc="none", ec="#e63ce6", lw=2.0))
ov.add_patch(Rectangle((195, 253), 144, 534, fc="none", ec="#8ce25a", lw=2.0))
ov.add_patch(Rectangle((29, 836), 1236, 520, fc="none", ec="#8ce25a", lw=2.0))

fig.savefig("out.png", dpi=100, facecolor="white")
